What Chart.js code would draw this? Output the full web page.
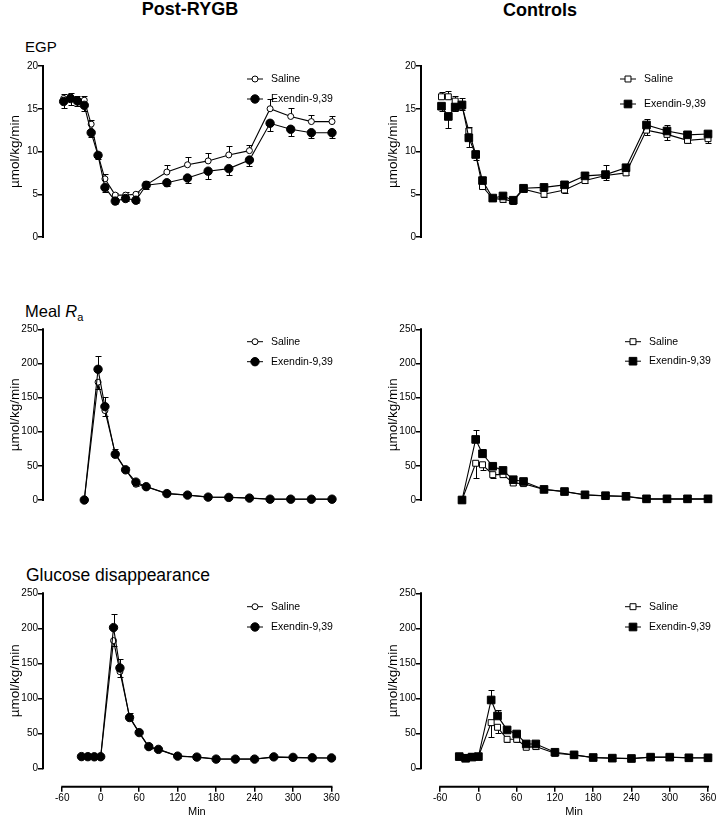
<!DOCTYPE html>
<html>
<head>
<meta charset="utf-8">
<script src="https://cdn.jsdelivr.net/npm/chart.js@4.4.1/dist/chart.umd.min.js"></script>
<style>
  body { margin: 0; background: #fff; }
  #wrap { position: relative; width: 718px; height: 818px; font-family: "Liberation Sans", Arial, sans-serif; color: #000; }
  #wrap canvas { position: absolute; left: 0; top: 0; }
  .hd { position: absolute; font-weight: bold; font-size: 18px; line-height: 1; width: 200px; text-align: center; }
  .pt { position: absolute; line-height: 1; white-space: nowrap; }
  .pt sub { font-size: 11px; line-height: 0; }
</style>
</head>
<body>
<div id="wrap">
  <div class="hd" style="left:90px; top:0px;">Post-RYGB</div>
  <div class="hd" style="left:440px; top:1px;">Controls</div>
  <div class="pt" style="left:25px; top:39px; font-size:15px;">EGP</div>
  <div class="pt" style="left:25px; top:303px; font-size:16.5px;">Meal <i>R</i><sub>a</sub></div>
  <div class="pt" style="left:26px; top:567px; font-size:17.5px;">Glucose disappearance</div>
  <canvas id="egpRygb" width="718" height="818"></canvas>
  <canvas id="egpCtrl" width="718" height="818"></canvas>
  <canvas id="raRygb" width="718" height="818"></canvas>
  <canvas id="raCtrl" width="718" height="818"></canvas>
  <canvas id="rdRygb" width="718" height="818"></canvas>
  <canvas id="rdCtrl" width="718" height="818"></canvas>
</div>
<script>
// time points (min)
const egpTimes = [-30, -20, -10, 0, 10, 20, 30, 45, 60, 75, 90, 120, 150, 180, 210, 240, 270, 300, 330, 360];
const raTimes = [0, 20, 30, 45, 60, 75, 90, 120, 150, 180, 210, 240, 270, 300, 330, 360];
const rdTimes = [-30, -20, -10, 0, 20, 30, 45, 60, 75, 90, 120, 150, 180, 210, 240, 270, 300, 330, 360];

// tick labels
const egpTicks = [0, 5, 10, 15, 20];
const rateTicks = [0, 50, 100, 150, 200, 250];
const minTicks = [-60, 0, 60, 120, 180, 240, 300, 360];

// EGP, post-RYGB
const egpRygbSaline = [16.2, 16.4, 16.0, 16.0, 13.2, 9.6, 6.8, 4.9, 4.9, 5.0, 6.1, 7.6, 8.45, 8.9, 9.6, 10.1, 15.0, 14.1, 13.5, 13.5];
const egpRygbSalineSem = [0.5, 0.4, 0.5, 0.5, 0.5, 0.4, 0.6, 0.3, 0.4, 0.3, 0.5, 0.8, 0.95, 0.9, 1.0, 0.7, 1.1, 1.0, 0.8, 0.65];
const egpRygbExendin = [15.85, 16.2, 15.9, 15.4, 12.2, 9.55, 5.8, 4.2, 4.5, 4.3, 6.05, 6.35, 6.9, 7.7, 8.0, 9.0, 13.3, 12.6, 12.2, 12.2];
const egpRygbExendinSem = [0.75, 0.8, 0.6, 0.7, 0.5, 0.4, 0.5, 0.3, 0.3, 0.3, 0.4, 0.4, 0.6, 0.9, 0.75, 0.75, 0.9, 0.75, 0.6, 0.65];

// EGP, controls
const egpCtrlSaline = [16.4, 16.4, 15.9, 15.3, 12.4, 9.7, 5.9, 4.5, 4.4, 4.2, 5.6, 5.0, 5.5, 6.6, 7.2, 7.5, 12.5, 12.0, 11.3, 11.5];
const egpCtrlSalineSem = [0.6, 0.7, 0.6, 0.4, 0.5, 0.4, 0.3, 0.3, 0.3, 0.35, 0.3, 0.3, 0.3, 0.3, 0.5, 0.3, 0.6, 0.7, 0.3, 0.5];
const egpCtrlExendin = [15.3, 14.1, 15.2, 15.45, 11.6, 9.65, 6.6, 4.55, 4.8, 4.3, 5.7, 5.8, 6.1, 7.15, 7.3, 8.1, 13.1, 12.4, 11.95, 12.05];
const egpCtrlExendinSem = [0.6, 1.4, 0.5, 0.75, 1.1, 0.6, 0.4, 0.3, 0.4, 0.4, 0.3, 0.3, 0.4, 0.4, 1.1, 0.4, 0.75, 0.75, 0.3, 0.4];

// Meal Ra, post-RYGB
const raRygbSaline = [0, 172.6, 131, 68, 44.6, 23, 19.7, 9.6, 7.4, 4.4, 4, 3, 1.3, 1.3, 1.3, 1.3];
const raRygbSalineSem = [0, 10, 8, 6, 3, 3, 2, 2, 1, 1, 1, 1, 0.5, 0.5, 0.5, 0.5];
const raRygbExendin = [0, 191.4, 136.8, 67, 44.2, 26.2, 19.5, 9.4, 7.2, 4.2, 3.8, 2.8, 1.2, 1.2, 1.2, 1.2];
const raRygbExendinSem = [0, 20, 14, 4, 3, 2, 2, 1, 1, 1, 1, 1, 0.5, 0.5, 0.5, 0.5];

// Meal Ra, controls
const raCtrlSaline = [0, 53.8, 51.6, 37.1, 37.1, 24.9, 24, 15.3, 12.2, 7.4, 6.1, 5.2, 1.3, 1.3, 1.3, 1.3];
const raCtrlSalineSem = [0, 21, 8, 5, 3, 3, 2, 2, 1, 1, 1, 1, 0.5, 0.5, 0.5, 0.5];
const raCtrlExendin = [0, 88.7, 67.7, 49.4, 43.3, 29.7, 27.1, 15.5, 12.4, 7.6, 6.3, 5.4, 1.7, 1.7, 1.7, 1.7];
const raCtrlExendinSem = [0, 14, 7.5, 4, 4, 3, 3, 2, 1, 1, 1, 1, 0.5, 0.5, 0.5, 0.5];

// Glucose disappearance, post-RYGB
const rdRygbSaline = [16.5, 16.5, 16.5, 16.3, 182.4, 138, 73.5, 51, 30, 27, 17.6, 16.2, 13.3, 13.3, 13.3, 15.7, 15.2, 14.8, 14.6];
const rdRygbSalineSem = [1, 1, 1, 1, 8, 7, 6, 3, 3, 2, 2, 1, 1, 1, 1, 1, 1, 1, 1];
const rdRygbExendin = [16.7, 16.6, 16.4, 16.5, 201, 143.3, 72.5, 51, 31, 27, 17.4, 16, 13.1, 13.1, 13.1, 16.3, 15.6, 15, 14.8];
const rdRygbExendinSem = [1, 1, 1, 1, 19.5, 12.4, 4, 3, 2, 2, 2, 1, 1, 1, 1, 1, 1, 1, 1];

// Glucose disappearance, controls
const rdCtrlSaline = [16.7, 15.5, 16.5, 16.5, 65.2, 58.6, 41.4, 41.4, 30, 31, 21.4, 19, 15.2, 14.3, 13.8, 15.7, 15.7, 14.8, 14.8];
const rdCtrlSalineSem = [1.5, 2, 1.5, 1.5, 20, 8, 4, 4, 3, 3, 2, 2, 1, 1, 1, 1, 1, 1, 1];
const rdCtrlExendin = [16.7, 14.3, 16, 16.7, 97.6, 74.8, 54.8, 49, 34.8, 34.8, 22.9, 19.2, 15.4, 14.5, 14, 15.9, 15.9, 15, 15];
const rdCtrlExendinSem = [1.5, 1.5, 1.5, 1.5, 14.4, 8, 4, 4, 3, 3, 2, 2, 1, 1, 1, 1, 1, 1, 1];

Chart.defaults.font.family = '"Liberation Sans", Arial, sans-serif';
Chart.defaults.color = '#000';

// error bars, axis lines, axis titles and legend, GraphPad style
const prism = {
  id: 'prism',
  beforeDatasetsDraw(chart) {
    const { ctx, scales: { x, y } } = chart;
    const sets = chart.data.datasets;
    ctx.save();
    ctx.strokeStyle = '#000';
    ctx.lineWidth = 1;
    sets.forEach((ds, k) => {
      const other = sets[1 - k];
      ds.data.forEach((p, i) => {
        const e = ds.sem[i];
        if (!e) return;
        const dir = p.y >= other.data[i].y ? 1 : -1;
        const px = Math.round(x.getPixelForValue(p.x)) + 0.5;
        const py0 = y.getPixelForValue(p.y);
        const py1 = Math.round(y.getPixelForValue(p.y + dir * e)) + 0.5;
        ctx.beginPath();
        ctx.moveTo(px, py0);
        ctx.lineTo(px, py1);
        ctx.moveTo(px - 3, py1);
        ctx.lineTo(px + 3, py1);
        ctx.stroke();
      });
    });
    ctx.restore();
  },
  afterDraw(chart, args, opts) {
    const { ctx, chartArea, scales: { x, y } } = chart;
    const yt = opts.yTicks;
    const yTop = y.getPixelForValue(yt[yt.length - 1]);
    const yBot = y.getPixelForValue(yt[0]);
    ctx.save();
    ctx.strokeStyle = '#000';
    ctx.fillStyle = '#000';
    ctx.lineWidth = 2;
    ctx.beginPath();
    ctx.moveTo(chartArea.left, yTop - 1);
    ctx.lineTo(chartArea.left, yBot + 1);
    ctx.stroke();

    // y title
    ctx.save();
    ctx.translate(chartArea.left - 28, (yTop + yBot) / 2);
    ctx.rotate(-Math.PI / 2);
    ctx.font = '13.5px "Liberation Sans", Arial, sans-serif';
    ctx.textAlign = 'center';
    ctx.textBaseline = 'middle';
    ctx.fillText('µmol/kg/min', 0, 0);
    ctx.restore();

    if (opts.showX) {
      const x0 = x.getPixelForValue(minTicks[0]);
      const x1 = x.getPixelForValue(minTicks[minTicks.length - 1]);
      ctx.beginPath();
      ctx.moveTo(x0 - 1, chartArea.bottom);
      ctx.lineTo(x1 + 1, chartArea.bottom);
      ctx.stroke();
      ctx.font = '11px "Liberation Sans", Arial, sans-serif';
      ctx.textAlign = 'center';
      ctx.textBaseline = 'middle';
      ctx.fillText('Min', (x0 + x1) / 2, chartArea.bottom + 25);
    }

    // legend
    const L = opts.legend;
    ctx.font = '10.5px "Liberation Sans", Arial, sans-serif';
    ctx.textAlign = 'left';
    ctx.textBaseline = 'middle';
    chart.data.datasets.forEach((ds, k) => {
      const ly = L.y + k * L.dy;
      ctx.lineWidth = 1;
      ctx.strokeStyle = '#000';
      ctx.beginPath();
      ctx.moveTo(L.x - 8, ly);
      ctx.lineTo(L.x + 8, ly);
      ctx.stroke();
      ctx.fillStyle = ds.pointBackgroundColor;
      Chart.helpers.drawPoint(ctx, { pointStyle: ds.pointStyle, radius: ds.pointRadius, rotation: 0, borderWidth: 1 }, L.x, ly);
      ctx.fillStyle = '#000';
      ctx.fillText(ds.label, L.x + 16, ly);
    });
    ctx.restore();
  }
};

function pts(times, vals) {
  return times.map((t, i) => ({ x: t, y: vals[i] }));
}

function makePanel(id, p) {
  const square = p.style === 'rect';
  const datasets = [
    {
      label: 'Saline', data: pts(p.times, p.saline), sem: p.salineSem,
      pointStyle: p.style, pointRadius: square ? 4.2 : 3,
      pointBackgroundColor: '#fff', order: 1
    },
    {
      label: 'Exendin-9,39', data: pts(p.times, p.exendin), sem: p.exendinSem,
      pointStyle: p.style, pointRadius: square ? 5.4 : 4.2,
      pointBackgroundColor: '#000', order: 0
    }
  ].map(d => Object.assign(d, {
    borderColor: '#000', borderWidth: 1.1, pointBorderColor: '#000',
    pointBorderWidth: 1, tension: 0, clip: false
  }));

  new Chart(document.getElementById(id), {
    type: 'line',
    data: { datasets },
    options: {
      responsive: false,
      animation: false,
      events: [],
      layout: {
        padding: {
          left: p.axisX - 30,
          right: 718 - p.right,
          top: p.top,
          bottom: p.showX ? 818 - p.bottom - 20 : 818 - p.bottom
        }
      },
      plugins: {
        legend: { display: false },
        tooltip: { enabled: false },
        prism: { yTicks: p.yTicks, showX: p.showX, legend: p.legend }
      },
      scales: {
        x: {
          type: 'linear',
          min: p.xMin, max: 360,
          display: p.showX,
          afterFit: s => { s.height = 20; },
          afterBuildTicks: s => { s.ticks = minTicks.map(v => ({ value: v })); },
          border: { display: false },
          grid: { drawOnChartArea: false, drawTicks: true, tickLength: 5, color: '#000', lineWidth: 1.5 },
          ticks: { font: { size: 10 }, padding: 1, maxRotation: 0, autoSkip: false }
        },
        y: {
          min: p.yMin, max: p.yTicks[p.yTicks.length - 1],
          afterFit: s => { s.width = 30; },
          afterBuildTicks: s => { s.ticks = p.yTicks.map(v => ({ value: v })); },
          border: { display: false },
          grid: { drawOnChartArea: false, drawTicks: true, tickLength: 5, color: '#000', lineWidth: 1.5 },
          ticks: { font: { size: 10 }, padding: 0 }
        }
      }
    },
    plugins: [prism]
  });
}

const leftCol = { axisX: 43 };
const rightCol = { axisX: 421 };

makePanel('egpRygb', Object.assign({}, leftCol, {
  right: 332, top: 66, bottom: 257, xMin: -60, yMin: 0, showX: false, yTicks: egpTicks, style: 'circle',
  times: egpTimes, saline: egpRygbSaline, salineSem: egpRygbSalineSem, exendin: egpRygbExendin, exendinSem: egpRygbExendinSem,
  legend: { x: 255, y: 79, dy: 20 }
}));
makePanel('egpCtrl', Object.assign({}, rightCol, {
  right: 708, top: 66, bottom: 257, xMin: -60, yMin: 0, showX: false, yTicks: egpTicks, style: 'rect',
  times: egpTimes, saline: egpCtrlSaline, salineSem: egpCtrlSalineSem, exendin: egpCtrlExendin, exendinSem: egpCtrlExendinSem,
  legend: { x: 628, y: 79, dy: 25 }
}));
makePanel('raRygb', Object.assign({}, leftCol, {
  right: 332, top: 329.3, bottom: 520, xMin: -60, yMin: 0, showX: false, yTicks: rateTicks, style: 'circle',
  times: raTimes, saline: raRygbSaline, salineSem: raRygbSalineSem, exendin: raRygbExendin, exendinSem: raRygbExendinSem,
  legend: { x: 255, y: 341.7, dy: 20 }
}));
makePanel('raCtrl', Object.assign({}, rightCol, {
  right: 708, top: 329.3, bottom: 520, xMin: -60, yMin: 0, showX: false, yTicks: rateTicks, style: 'rect',
  times: raTimes, saline: raCtrlSaline, salineSem: raCtrlSalineSem, exendin: raCtrlExendin, exendinSem: raCtrlExendinSem,
  legend: { x: 633, y: 341.7, dy: 19.5 }
}));
makePanel('rdRygb', Object.assign({}, leftCol, {
  right: 331.5, top: 593.3, bottom: 786.7, xMin: -90, yMin: -26.3, showX: true, yTicks: rateTicks, style: 'circle',
  times: rdTimes, saline: rdRygbSaline, salineSem: rdRygbSalineSem, exendin: rdRygbExendin, exendinSem: rdRygbExendinSem,
  legend: { x: 255, y: 606.7, dy: 20.3 }
}));
makePanel('rdCtrl', Object.assign({}, rightCol, {
  right: 708, top: 593.3, bottom: 786.7, xMin: -90, yMin: -26.3, showX: true, yTicks: rateTicks, style: 'rect',
  times: rdTimes, saline: rdCtrlSaline, salineSem: rdCtrlSalineSem, exendin: rdCtrlExendin, exendinSem: rdCtrlExendinSem,
  legend: { x: 633, y: 606.7, dy: 20.3 }
}));
</script>
</body>
</html>
